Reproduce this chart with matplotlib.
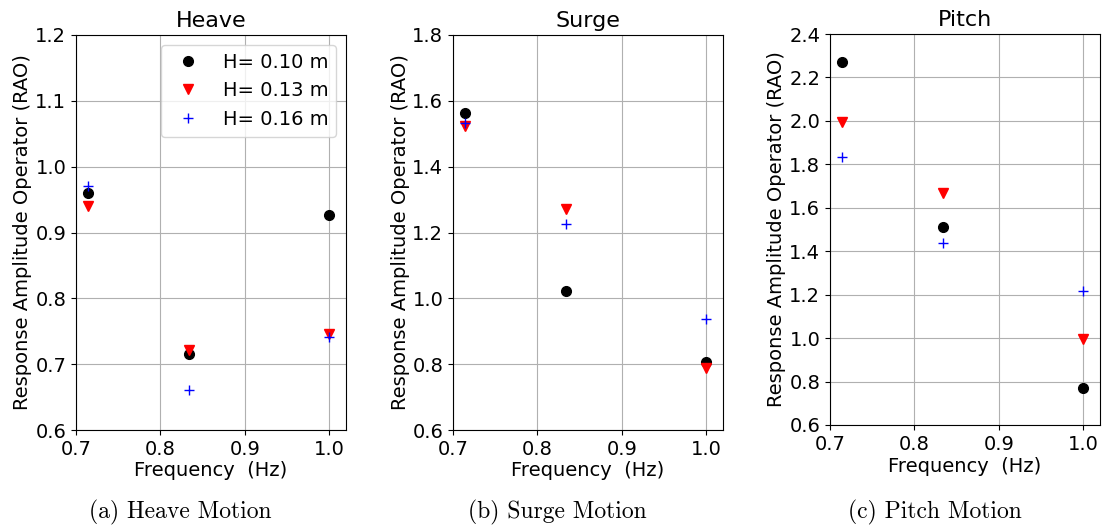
import matplotlib
matplotlib.use("Agg")
import matplotlib.pyplot as plt

# wave frequencies (Hz)
freq = [1 / 1.4, 1 / 1.2, 1.0]

labels = ["H= 0.10 m", "H= 0.13 m", "H= 0.16 m"]

heave_010 = [0.960, 0.715, 0.927]
heave_013 = [0.940, 0.721, 0.746]
heave_016 = [0.971, 0.661, 0.741]

surge_010 = [1.564, 1.023, 0.807]
surge_013 = [1.524, 1.271, 0.787]
surge_016 = [1.533, 1.227, 0.936]

pitch_010 = [2.270, 1.513, 0.769]
pitch_013 = [1.996, 1.666, 0.995]
pitch_016 = [1.832, 1.436, 1.217]

titles = ["Heave", "Surge", "Pitch"]
captions = ["(a) Heave Motion", "(b) Surge Motion", "(c) Pitch Motion"]
ylims = [(0.6, 1.2), (0.6, 1.8), (0.6, 2.4)]

data = [
    (heave_010, heave_013, heave_016),
    (surge_010, surge_013, surge_016),
    (pitch_010, pitch_013, pitch_016),
]

fig = plt.figure(figsize=(11.02, 5.29), dpi=100)

# axes boxes in pixels: left, right, top, bottom
boxes = [(76, 346, 35, 430), (453, 723, 35, 430), (830, 1100, 34, 425)]
cap_x = [180, 557, 935]

for i in range(3):
    l, r, t, b = boxes[i]
    ax = fig.add_axes([l / 1102, 1 - b / 529, (r - l) / 1102, (b - t) / 529])
    y1, y2, y3 = data[i]
    ax.plot(freq, y1, "ko", markersize=7, label=labels[0], linestyle="none")
    ax.plot(freq, y2, "rv", markersize=7, label=labels[1], linestyle="none")
    ax.plot(freq, y3, "b+", markersize=7, label=labels[2], linestyle="none")
    ax.set_xlim(0.7, 1.02)
    ax.set_ylim(*ylims[i])
    ax.set_xticks([0.7, 0.8, 0.9, 1.0])
    ax.grid(True)
    ax.set_axisbelow(True)
    ax.tick_params(labelsize=14)
    ax.set_title(titles[i], fontsize=16)
    ax.set_xlabel("Frequency  (Hz)", fontsize=14, labelpad=2)
    ax.set_ylabel("Response Amplitude Operator (RAO)", fontsize=14, labelpad=2)
    if i == 0:
        ax.legend(loc="upper right", fontsize=14)
    fig.text(cap_x[i] / 1102, 1 - 512 / 529, captions[i], family="cmr10",
             fontsize=17, ha="center", va="center")

plt.savefig("out.png", dpi=100)
